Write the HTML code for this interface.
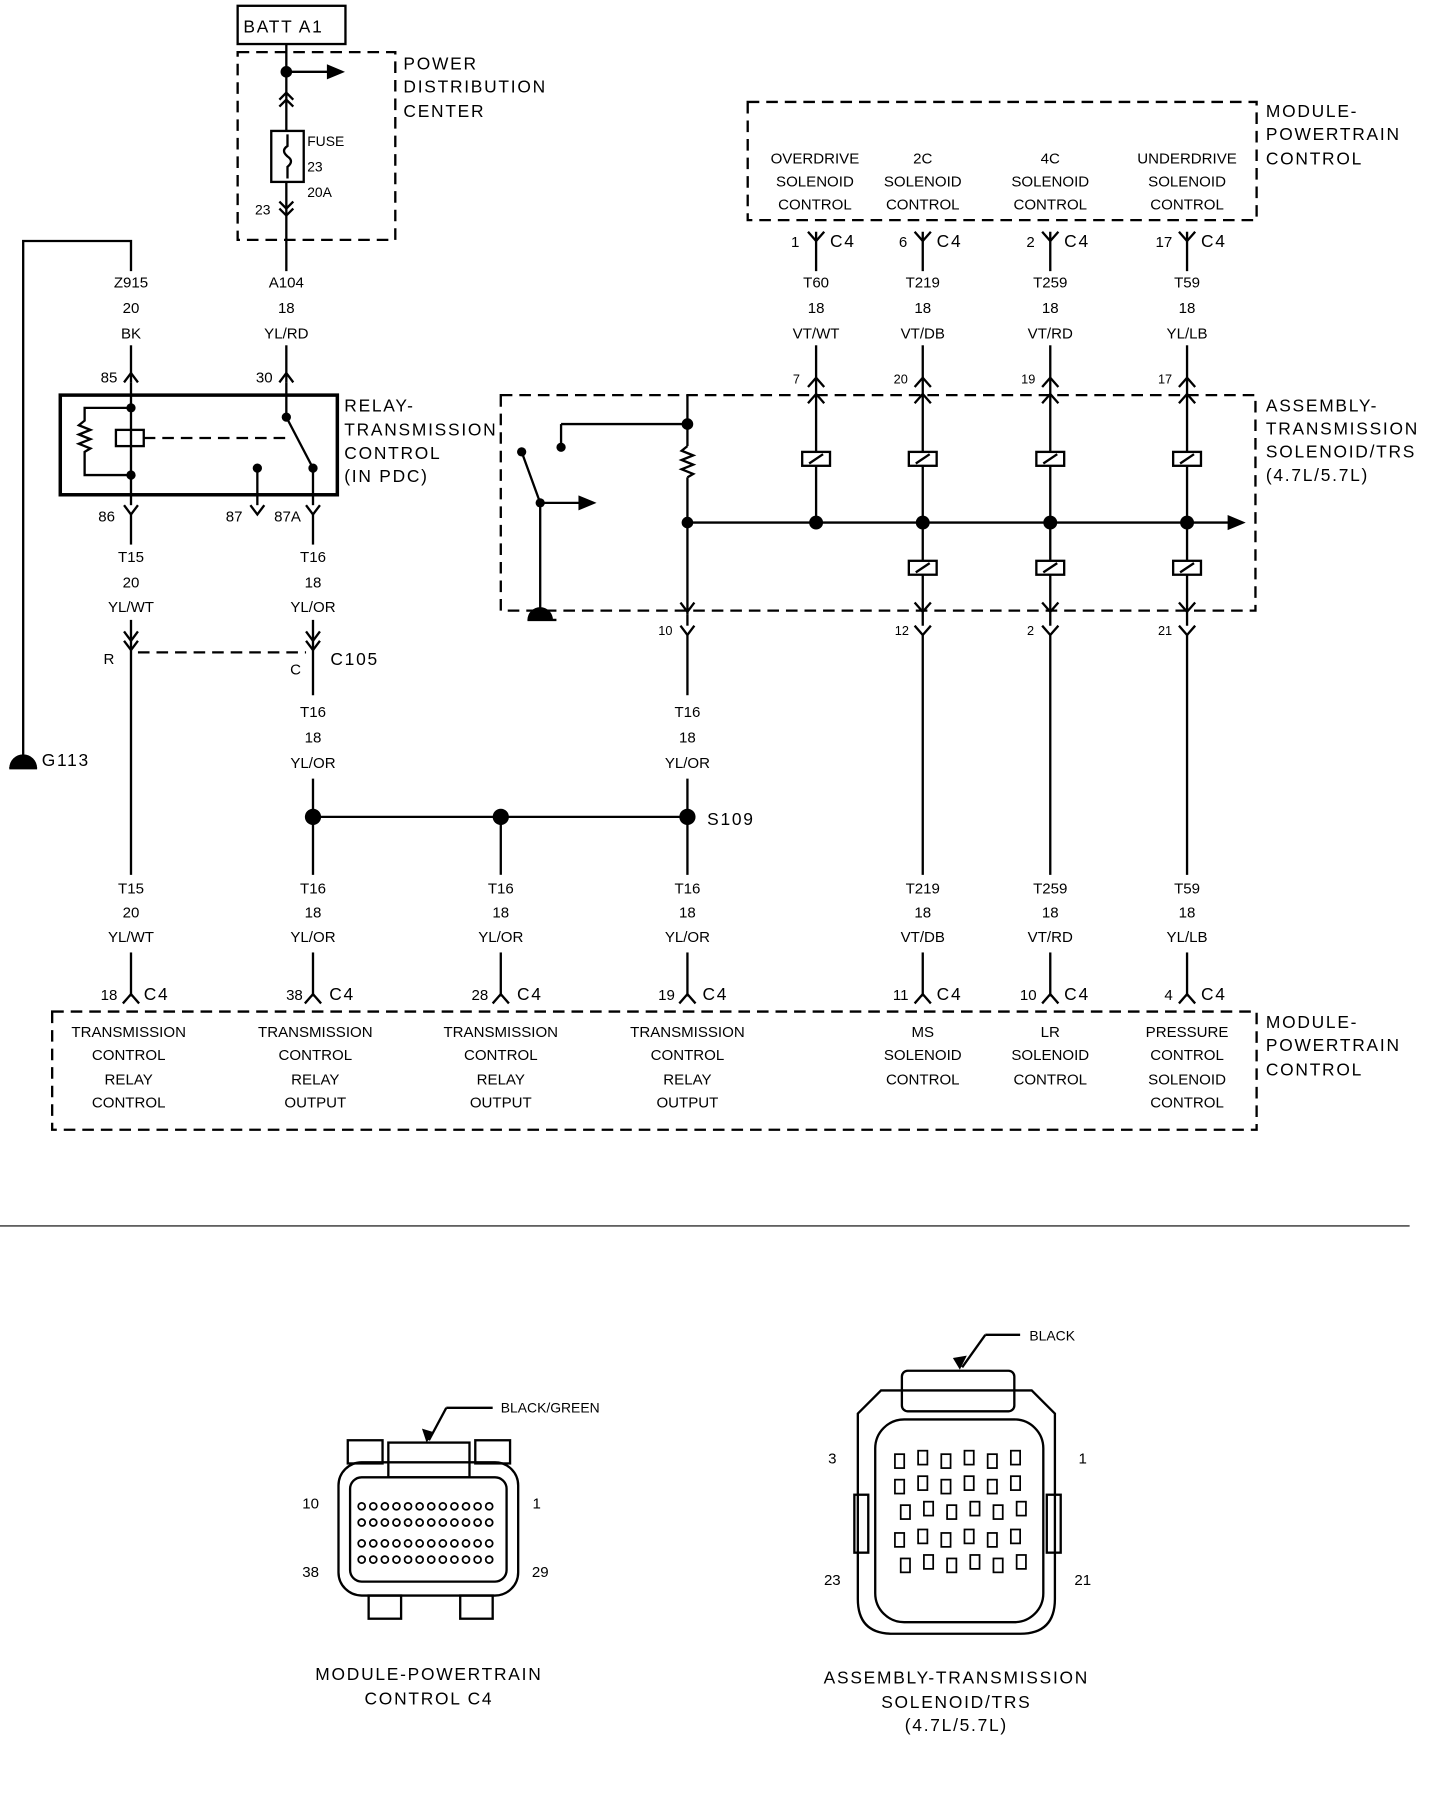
<!DOCTYPE html>
<html><head><meta charset="utf-8"><style>
html,body{margin:0;padding:0;background:#fff;}
svg{display:block}
text{font-family:"Liberation Sans",sans-serif;fill:#000;}
.s{font-size:13px;text-anchor:middle}
.l{font-size:15px;letter-spacing:1.5px}
.t{font-size:12px}
</style></head><body>
<svg width="1456" height="1818" viewBox="0 0 1256 1569" preserveAspectRatio="none" xmlns="http://www.w3.org/2000/svg">
<g stroke="#000" stroke-width="2" fill="none">
<rect x="205" y="5" width="93" height="33"/>
<rect x="205" y="45" width="136" height="162" stroke-dasharray="10,6"/>
<line x1="247" y1="38" x2="247" y2="113"/>
<line x1="247" y1="62" x2="285" y2="62"/>
<polygon points="295,62 283,57 283,67" fill="#000"/>
<polyline points="241,86 247,80 253,86"/><polyline points="241,92 247,86 253,92"/>
<rect x="234" y="113" width="28" height="44"/>
<path d="M248,116 v10 q-6,4 0,9 q6,4 0,9 v10"/>
<line x1="247" y1="157" x2="247" y2="330"/>
<polyline points="241,174 247,180 253,174"/><polyline points="241,180 247,186 253,180"/>
<polyline points="113,330 113,208 20,208 20,655"/>
<line x1="8" y1="663" x2="32" y2="663"/>
<rect x="52" y="341" width="239" height="86" stroke-width="3"/>
<line x1="113" y1="330" x2="113" y2="427"/>
<line x1="247" y1="330" x2="247" y2="360"/>
<polyline points="107,330 113,322 119,330"/><polyline points="241,330 247,322 253,330"/>
<path d="M113,352 H73 V363 l-5,4 l10,4 l-10,4 l10,4 l-10,4 l10,4 l-5,3 V410 H113"/>
<rect x="100" y="371" width="24" height="14"/>
<line x1="124" y1="378" x2="247" y2="378" stroke-dasharray="10,6"/>
<line x1="247" y1="360" x2="270" y2="404"/>
<line x1="270" y1="404" x2="270" y2="436"/>
<line x1="222" y1="404" x2="222" y2="436"/>
<line x1="113" y1="427" x2="113" y2="436"/>
<polyline points="107,436 113,444 119,436"/><polyline points="216,436 222,444 228,436"/><polyline points="264,436 270,444 276,436"/>
<line x1="113" y1="444" x2="113" y2="470"/><line x1="270" y1="444" x2="270" y2="470"/>
<line x1="113" y1="535" x2="113" y2="755"/>
<line x1="270" y1="535" x2="270" y2="600"/>
<polyline points="107,545 113,553 119,545"/><polyline points="107,553 113,561 119,553"/>
<polyline points="264,545 270,553 276,545"/><polyline points="264,553 270,561 276,553"/>
<line x1="119" y1="563" x2="264" y2="563" stroke-dasharray="10,6"/>
<line x1="270" y1="672" x2="270" y2="755"/>
<line x1="270" y1="705" x2="593" y2="705"/>
<line x1="432" y1="705" x2="432" y2="755"/>
<line x1="593" y1="548" x2="593" y2="600"/>
<line x1="593" y1="672" x2="593" y2="755"/>
<rect x="645" y="88" width="439" height="102" stroke-dasharray="10,6"/>
<rect x="432" y="341" width="651" height="186" stroke-dasharray="10,6"/>
<line x1="484" y1="386" x2="484" y2="366"/><line x1="484" y1="366" x2="593" y2="366"/>
<line x1="450" y1="390" x2="466" y2="434"/>
<line x1="466" y1="434" x2="466" y2="527"/>
<line x1="466" y1="434" x2="500" y2="434"/><polygon points="512,434 500,429 500,439" fill="#000"/>
<line x1="455" y1="535" x2="480" y2="535"/>
<line x1="593" y1="341" x2="593" y2="385"/>
<path d="M593,385 l-5,4 l10,4 l-10,4 l10,4 l-10,4 l10,4 l-5,3"/>
<line x1="593" y1="412" x2="593" y2="530"/>
<line x1="593" y1="451" x2="1060" y2="451"/><polygon points="1072,451 1060,446 1060,456" fill="#000"/>
<line x1="593" y1="530" x2="593" y2="540"/>
<polyline points="587,540 593,548 599,540"/>
<polyline points="587,520 593,528 599,520"/>
</g>
<g stroke="#000" stroke-width="2" fill="none">
<line x1="704" y1="200" x2="704" y2="451"/><polyline points="697,200 704,208 711,200"/><polyline points="697,334 704,326 711,334"/><polyline points="697,348 704,340 711,348"/><rect x="692" y="390" width="24" height="12" fill="#fff"/><line x1="698" y1="400" x2="710" y2="392"/>
<line x1="796" y1="200" x2="796" y2="540"/><polyline points="789,200 796,208 803,200"/><polyline points="789,334 796,326 803,334"/><polyline points="789,348 796,340 803,348"/><rect x="784" y="390" width="24" height="12" fill="#fff"/><line x1="790" y1="400" x2="802" y2="392"/><rect x="784" y="484" width="24" height="12" fill="#fff"/><line x1="790" y1="494" x2="802" y2="486"/><polyline points="789,520 796,528 803,520"/><polyline points="789,540 796,548 803,540"/><line x1="796" y1="548" x2="796" y2="755"/>
<line x1="906" y1="200" x2="906" y2="540"/><polyline points="899,200 906,208 913,200"/><polyline points="899,334 906,326 913,334"/><polyline points="899,348 906,340 913,348"/><rect x="894" y="390" width="24" height="12" fill="#fff"/><line x1="900" y1="400" x2="912" y2="392"/><rect x="894" y="484" width="24" height="12" fill="#fff"/><line x1="900" y1="494" x2="912" y2="486"/><polyline points="899,520 906,528 913,520"/><polyline points="899,540 906,548 913,540"/><line x1="906" y1="548" x2="906" y2="755"/>
<line x1="1024" y1="200" x2="1024" y2="540"/><polyline points="1017,200 1024,208 1031,200"/><polyline points="1017,334 1024,326 1031,334"/><polyline points="1017,348 1024,340 1031,348"/><rect x="1012" y="390" width="24" height="12" fill="#fff"/><line x1="1018" y1="400" x2="1030" y2="392"/><rect x="1012" y="484" width="24" height="12" fill="#fff"/><line x1="1018" y1="494" x2="1030" y2="486"/><polyline points="1017,520 1024,528 1031,520"/><polyline points="1017,540 1024,548 1031,540"/><line x1="1024" y1="548" x2="1024" y2="755"/>
<line x1="113" y1="822" x2="113" y2="860"/><polyline points="106,866 113,858 120,866"/>
<line x1="270" y1="822" x2="270" y2="860"/><polyline points="263,866 270,858 277,866"/>
<line x1="432" y1="822" x2="432" y2="860"/><polyline points="425,866 432,858 439,866"/>
<line x1="593" y1="822" x2="593" y2="860"/><polyline points="586,866 593,858 600,866"/>
<line x1="796" y1="822" x2="796" y2="860"/><polyline points="789,866 796,858 803,866"/>
<line x1="906" y1="822" x2="906" y2="860"/><polyline points="899,866 906,858 913,866"/>
<line x1="1024" y1="822" x2="1024" y2="860"/><polyline points="1017,866 1024,858 1031,866"/>
<rect x="45" y="873" width="1039" height="102" stroke-dasharray="10,6"/>
<line x1="0" y1="1058" x2="1216" y2="1058" stroke-width="1"/>
<rect x="300" y="1243" width="30" height="20"/><rect x="410" y="1243" width="30" height="20"/>
<rect x="335" y="1245" width="70" height="30"/>
<rect x="292" y="1262" width="155" height="115" rx="20"/>
<rect x="302" y="1275" width="135" height="90" rx="10"/>
<rect x="318" y="1377" width="28" height="20"/><rect x="397" y="1377" width="28" height="20"/>
<line x1="370" y1="1243" x2="385" y2="1215"/><line x1="385" y1="1215" x2="425" y2="1215"/>
<rect x="778" y="1183" width="97" height="35" rx="5"/>
<path d="M760,1200 h130 l20,20 v160 q0,30 -30,30 h-110 q-30,0 -30,-30 v-160 z"/>
<rect x="755" y="1225" width="145" height="175" rx="25"/>
<rect x="737" y="1290" width="12" height="50"/><rect x="903" y="1290" width="12" height="50"/>
<line x1="830" y1="1180" x2="850" y2="1152"/><line x1="850" y1="1152" x2="880" y2="1152"/>
</g>
<!-- white gaps behind labels -->
<g fill="#fff">
<rect x="90" y="234" width="46" height="64"/><rect x="224" y="234" width="46" height="64"/>
<rect x="681" y="234" width="46" height="64"/><rect x="773" y="234" width="46" height="64"/><rect x="883" y="234" width="46" height="64"/><rect x="1001" y="234" width="46" height="64"/>
<rect x="90" y="471" width="46" height="63"/><rect x="247" y="471" width="46" height="63"/>
<rect x="247" y="605" width="46" height="64"/><rect x="570" y="605" width="46" height="64"/>
<rect x="90" y="757" width="46" height="62"/><rect x="247" y="757" width="46" height="62"/><rect x="409" y="757" width="46" height="62"/><rect x="570" y="757" width="46" height="62"/><rect x="773" y="757" width="46" height="62"/><rect x="883" y="757" width="46" height="62"/><rect x="1001" y="757" width="46" height="62"/>
</g>
<g fill="#000">
<circle cx="247" cy="62" r="5"/><circle cx="113" cy="352" r="4"/><circle cx="113" cy="410" r="4"/><circle cx="247" cy="360" r="4"/><circle cx="270" cy="404" r="4"/><circle cx="222" cy="404" r="4"/>
<path d="M8,663 a12,12 0 0 1 24,0 z"/>
<circle cx="270" cy="705" r="7"/><circle cx="432" cy="705" r="7"/><circle cx="593" cy="705" r="7"/>
<circle cx="593" cy="366" r="5"/><circle cx="484" cy="386" r="4"/><circle cx="450" cy="390" r="4"/><circle cx="466" cy="434" r="4"/><circle cx="593" cy="451" r="5"/><circle cx="704" cy="451" r="6"/><circle cx="796" cy="451" r="6"/><circle cx="906" cy="451" r="6"/><circle cx="1024" cy="451" r="6"/>
<path d="M455,535 a11,11 0 0 1 22,0 z"/>
<polygon points="828,1182 822,1172 834,1170"/><polygon points="368,1245 364,1233 374,1236"/>
</g>
<g fill="none" stroke="#000" stroke-width="1.5">
<g id="pr"><circle cx="312" cy="1300" r="3"/><circle cx="322" cy="1300" r="3"/><circle cx="332" cy="1300" r="3"/><circle cx="342" cy="1300" r="3"/><circle cx="352" cy="1300" r="3"/><circle cx="362" cy="1300" r="3"/><circle cx="372" cy="1300" r="3"/><circle cx="382" cy="1300" r="3"/><circle cx="392" cy="1300" r="3"/><circle cx="402" cy="1300" r="3"/><circle cx="412" cy="1300" r="3"/><circle cx="422" cy="1300" r="3"/></g>
<use href="#pr" y="14"/><use href="#pr" y="32"/><use href="#pr" y="46"/>
<g id="tp"><rect x="772" y="1255" width="8" height="12"/><rect x="792" y="1252" width="8" height="12"/><rect x="812" y="1255" width="8" height="12"/><rect x="832" y="1252" width="8" height="12"/><rect x="852" y="1255" width="8" height="12"/><rect x="872" y="1252" width="8" height="12"/></g>
<use href="#tp" y="22"/><use href="#tp" y="44" x="5"/><use href="#tp" y="68"/><use href="#tp" y="90" x="5"/>
</g>
<text x="210" y="28" class="l">BATT A1</text>
<text x="348" y="60" class="l">POWER</text><text x="348" y="80" class="l">DISTRIBUTION</text><text x="348" y="101" class="l">CENTER</text>
<text x="265" y="126" class="t">FUSE</text><text x="265" y="148" class="t">23</text><text x="265" y="170" class="t">20A</text><text x="220" y="185" class="t">23</text>
<text x="113" y="248" class="s">Z915</text><text x="113" y="270" class="s">20</text><text x="113" y="292" class="s">BK</text>
<text x="247" y="248" class="s">A104</text><text x="247" y="270" class="s">18</text><text x="247" y="292" class="s">YL/RD</text>
<text x="94" y="330" class="s">85</text><text x="228" y="330" class="s">30</text>
<text x="297" y="355" class="l">RELAY-</text><text x="297" y="376" class="l">TRANSMISSION</text><text x="297" y="396" class="l">CONTROL</text><text x="297" y="416" class="l">(IN PDC)</text>
<text x="92" y="450" class="s">86</text><text x="202" y="450" class="s">87</text><text x="248" y="450" class="s">87A</text>
<text x="113" y="485" class="s">T15</text><text x="113" y="507" class="s">20</text><text x="113" y="528" class="s">YL/WT</text>
<text x="270" y="485" class="s">T16</text><text x="270" y="507" class="s">18</text><text x="270" y="528" class="s">YL/OR</text>
<text x="94" y="573" class="s">R</text><text x="255" y="582" class="s">C</text><text x="285" y="574" class="l">C105</text>
<text x="36" y="661" class="l">G113</text>
<text x="270" y="619" class="s">T16</text><text x="270" y="641" class="s">18</text><text x="270" y="663" class="s">YL/OR</text>
<text x="593" y="619" class="s">T16</text><text x="593" y="641" class="s">18</text><text x="593" y="663" class="s">YL/OR</text>
<text x="574" y="548" class="s" style="font-size:11px">10</text>
<text x="610" y="712" class="l">S109</text>
<text x="703" y="141" class="s">OVERDRIVE</text><text x="703" y="161" class="s">SOLENOID</text><text x="703" y="181" class="s">CONTROL</text>
<text x="796" y="141" class="s">2C</text><text x="796" y="161" class="s">SOLENOID</text><text x="796" y="181" class="s">CONTROL</text>
<text x="906" y="141" class="s">4C</text><text x="906" y="161" class="s">SOLENOID</text><text x="906" y="181" class="s">CONTROL</text>
<text x="1024" y="141" class="s">UNDERDRIVE</text><text x="1024" y="161" class="s">SOLENOID</text><text x="1024" y="181" class="s">CONTROL</text>
<text x="1092" y="101" class="l">MODULE-</text><text x="1092" y="121" class="l">POWERTRAIN</text><text x="1092" y="142" class="l">CONTROL</text>
<text x="686" y="213" class="s">1</text><text x="716" y="213" class="l">C4</text>
<text x="779" y="213" class="s">6</text><text x="808" y="213" class="l">C4</text>
<text x="889" y="213" class="s">2</text><text x="918" y="213" class="l">C4</text>
<text x="1004" y="213" class="s">17</text><text x="1036" y="213" class="l">C4</text>
<text x="704" y="248" class="s">T60</text><text x="704" y="270" class="s">18</text><text x="704" y="292" class="s">VT/WT</text>
<text x="796" y="248" class="s">T219</text><text x="796" y="270" class="s">18</text><text x="796" y="292" class="s">VT/DB</text>
<text x="906" y="248" class="s">T259</text><text x="906" y="270" class="s">18</text><text x="906" y="292" class="s">VT/RD</text>
<text x="1024" y="248" class="s">T59</text><text x="1024" y="270" class="s">18</text><text x="1024" y="292" class="s">YL/LB</text>
<text x="687" y="331" class="s" style="font-size:11px">7</text><text x="777" y="331" class="s" style="font-size:11px">20</text><text x="887" y="331" class="s" style="font-size:11px">19</text><text x="1005" y="331" class="s" style="font-size:11px">17</text>
<text x="1092" y="355" class="l">ASSEMBLY-</text><text x="1092" y="375" class="l">TRANSMISSION</text><text x="1092" y="395" class="l">SOLENOID/TRS</text><text x="1092" y="415" class="l">(4.7L/5.7L)</text>
<text x="778" y="548" class="s" style="font-size:11px">12</text><text x="889" y="548" class="s" style="font-size:11px">2</text><text x="1005" y="548" class="s" style="font-size:11px">21</text>
<text x="113" y="771" class="s">T15</text><text x="113" y="792" class="s">20</text><text x="113" y="813" class="s">YL/WT</text>
<text x="270" y="771" class="s">T16</text><text x="270" y="792" class="s">18</text><text x="270" y="813" class="s">YL/OR</text>
<text x="432" y="771" class="s">T16</text><text x="432" y="792" class="s">18</text><text x="432" y="813" class="s">YL/OR</text>
<text x="593" y="771" class="s">T16</text><text x="593" y="792" class="s">18</text><text x="593" y="813" class="s">YL/OR</text>
<text x="796" y="771" class="s">T219</text><text x="796" y="792" class="s">18</text><text x="796" y="813" class="s">VT/DB</text>
<text x="906" y="771" class="s">T259</text><text x="906" y="792" class="s">18</text><text x="906" y="813" class="s">VT/RD</text>
<text x="1024" y="771" class="s">T59</text><text x="1024" y="792" class="s">18</text><text x="1024" y="813" class="s">YL/LB</text>
<text x="94" y="863" class="s">18</text><text x="124" y="863" class="l">C4</text>
<text x="254" y="863" class="s">38</text><text x="284" y="863" class="l">C4</text>
<text x="414" y="863" class="s">28</text><text x="446" y="863" class="l">C4</text>
<text x="575" y="863" class="s">19</text><text x="606" y="863" class="l">C4</text>
<text x="777" y="863" class="s">11</text><text x="808" y="863" class="l">C4</text>
<text x="887" y="863" class="s">10</text><text x="918" y="863" class="l">C4</text>
<text x="1008" y="863" class="s">4</text><text x="1036" y="863" class="l">C4</text>
<text x="111" y="895" class="s">TRANSMISSION</text><text x="111" y="915" class="s">CONTROL</text><text x="111" y="936" class="s">RELAY</text><text x="111" y="956" class="s">CONTROL</text>
<text x="272" y="895" class="s">TRANSMISSION</text><text x="272" y="915" class="s">CONTROL</text><text x="272" y="936" class="s">RELAY</text><text x="272" y="956" class="s">OUTPUT</text>
<text x="432" y="895" class="s">TRANSMISSION</text><text x="432" y="915" class="s">CONTROL</text><text x="432" y="936" class="s">RELAY</text><text x="432" y="956" class="s">OUTPUT</text>
<text x="593" y="895" class="s">TRANSMISSION</text><text x="593" y="915" class="s">CONTROL</text><text x="593" y="936" class="s">RELAY</text><text x="593" y="956" class="s">OUTPUT</text>
<text x="796" y="895" class="s">MS</text><text x="796" y="915" class="s">SOLENOID</text><text x="796" y="936" class="s">CONTROL</text>
<text x="906" y="895" class="s">LR</text><text x="906" y="915" class="s">SOLENOID</text><text x="906" y="936" class="s">CONTROL</text>
<text x="1024" y="895" class="s">PRESSURE</text><text x="1024" y="915" class="s">CONTROL</text><text x="1024" y="936" class="s">SOLENOID</text><text x="1024" y="956" class="s">CONTROL</text>
<text x="1092" y="887" class="l">MODULE-</text><text x="1092" y="907" class="l">POWERTRAIN</text><text x="1092" y="928" class="l">CONTROL</text>
<text x="432" y="1219" class="t">BLACK/GREEN</text>
<text x="268" y="1302" class="s">10</text><text x="463" y="1302" class="s">1</text><text x="268" y="1361" class="s">38</text><text x="466" y="1361" class="s">29</text>
<text x="370" y="1450" class="l" style="text-anchor:middle">MODULE-POWERTRAIN</text><text x="370" y="1471" class="l" style="text-anchor:middle">CONTROL C4</text>
<text x="888" y="1157" class="t">BLACK</text>
<text x="718" y="1263" class="s">3</text><text x="934" y="1263" class="s">1</text><text x="718" y="1368" class="s">23</text><text x="934" y="1368" class="s">21</text>
<text x="825" y="1453" class="l" style="text-anchor:middle">ASSEMBLY-TRANSMISSION</text><text x="825" y="1474" class="l" style="text-anchor:middle">SOLENOID/TRS</text><text x="825" y="1494" class="l" style="text-anchor:middle">(4.7L/5.7L)</text>
</svg>
</body></html>
